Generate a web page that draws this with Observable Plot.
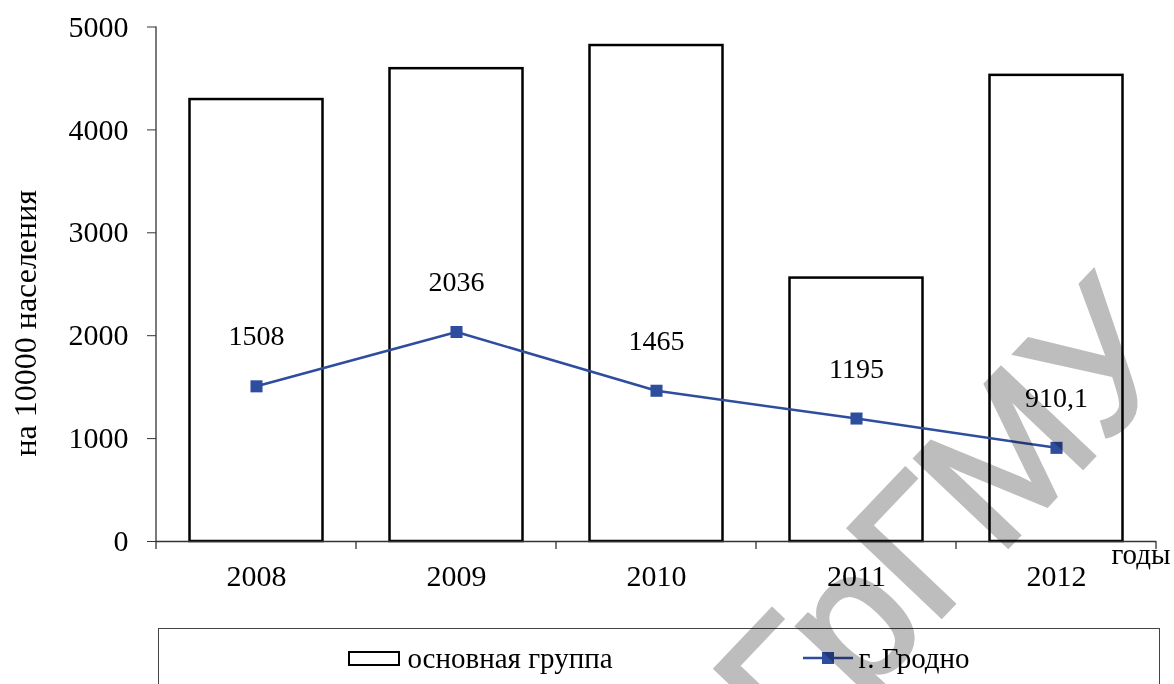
<!DOCTYPE html>
<html>
<head>
<meta charset="utf-8">
<script src="https://cdn.jsdelivr.net/npm/d3@7"></script>
<script src="https://cdn.jsdelivr.net/npm/@observablehq/plot@0.6"></script>
<style>
  html, body { margin: 0; padding: 0; background: #fff; }
  #page { position: relative; width: 1174px; height: 684px; overflow: hidden;
          font-family: "Liberation Serif", "Times New Roman", serif; color: #000; }
  #chart { position: absolute; left: 0; top: 0; }
  #legend { position: absolute; left: 158px; top: 628px; width: 1002px; height: 90px;
            box-sizing: border-box; border: 1.5px solid #444;
            display: flex; justify-content: center; align-items: flex-start;
            gap: 190px; padding-left: 0; padding-top: 13px; }
  .item { display: flex; align-items: center; font-size: 29px; line-height: 32px; }
  .swatch-box { width: 48px; height: 11px; border: 2px solid #000; margin-right: 7px; }
  .swatch-line { margin-right: 6px; }
  #stamp { position: absolute; left: 0; top: 0; pointer-events: none; mix-blend-mode: multiply; }
</style>
</head>
<body>
<div id="page">
  <div id="chart"></div>
  <div id="legend"></div>
  <svg id="stamp" width="1174" height="684"></svg>
</div>
<script>
// Years on the category axis
const years = ["2008", "2009", "2010", "2011", "2012"];
// Bars: main group, per 10 000 population
const mainGroup = [4295, 4595, 4820, 2560, 4530];
// Line: city of Grodno, per 10 000 population
const grodno = [1508, 2036, 1465, 1195, 910.1];
// Value axis ticks
const yTicks = [0, 1000, 2000, 3000, 4000, 5000];
// Series names and axis captions
const seriesNames = ["основная группа", "г. Гродно"];
const yLabel = "на 10000 населения";
const xLabel = "годы";
const stampText = "ГрГМУ";

const blue = "#2f4d9e";
const fmt = d3.formatLocale({decimal: ",", thousands: "\u00a0", grouping: [3], currency: ["", ""]}).format("");

const data = years.map((year, i) => ({year, main: mainGroup[i], city: grodno[i]}));

// Left axis line and the category-boundary ticks under the x axis
function axisFrame(index, scales, values, dims) {
  const g = d3.create("svg:g").attr("stroke", "#333").attr("stroke-width", 1.3);
  const left = dims.marginLeft;
  const bottom = dims.height - dims.marginBottom;
  const starts = years.map(y => scales.x(y));
  const step = starts[1] - starts[0];
  const edges = [...starts, starts[starts.length - 1] + step];
  g.append("line").attr("x1", left).attr("x2", left).attr("y1", dims.marginTop).attr("y2", bottom);
  for (const e of edges) {
    g.append("line").attr("x1", e).attr("x2", e).attr("y1", bottom).attr("y2", bottom + 8);
  }
  return g.node();
}

const chart = Plot.plot({
  width: 1174,
  height: 600,
  marginLeft: 156,
  marginRight: 18,
  marginTop: 26.5,
  marginBottom: 59,
  style: {fontFamily: "'Liberation Serif', 'Times New Roman', serif", fontSize: "30px", color: "#000", background: "transparent"},
  x: {domain: years, padding: 0, label: null},
  y: {domain: [0, 5000], label: null},
  marks: [
    Plot.barY(data, {x: "year", y: "main", fill: "white", stroke: "#000", strokeWidth: 2.5, insetLeft: 33.5, insetRight: 33.5}),
    Plot.ruleY([0], {stroke: "#333", strokeWidth: 1.3}),
    axisFrame,
    Plot.axisY({ticks: yTicks, tickSize: 9, tickPadding: 19, tickFormat: d => String(d), fontSize: 30, stroke: "#333", label: null}),
    Plot.axisX({tickSize: 0, tickPadding: 23, fontSize: 30, label: null}),
    Plot.text([xLabel], {frameAnchor: "bottom-right", dx: 14, dy: 22, textAnchor: "end", fontSize: 29}),
    Plot.text([yLabel], {frameAnchor: "left", rotate: -90, dx: -131, dy: 39, textAnchor: "middle", fontSize: 32}),
    Plot.line(data, {x: "year", y: "city", stroke: blue, strokeWidth: 2.5}),
    Plot.dot(data, {x: "year", y: "city", symbol: "square", r: 6.8, fill: blue}),
    Plot.text(data, {x: "year", y: "city", text: d => fmt(d.city), dy: -50, fontSize: 28})
  ]
});
document.getElementById("chart").appendChild(chart);

// Legend
const legend = d3.select("#legend");
const it1 = legend.append("div").attr("class", "item");
it1.append("div").attr("class", "swatch-box");
it1.append("span").text(seriesNames[0]);
const it2 = legend.append("div").attr("class", "item");
const sw = it2.append("svg").attr("class", "swatch-line").attr("width", 50).attr("height", 16);
sw.append("line").attr("x1", 0).attr("x2", 50).attr("y1", 8).attr("y2", 8).attr("stroke", blue).attr("stroke-width", 2.5);
sw.append("rect").attr("x", 19).attr("y", 2).attr("width", 12).attr("height", 12).attr("fill", blue);
it2.append("span").text(seriesNames[1]);

// Diagonal stamp across the lower right
d3.select("#stamp").append("text")
  .attr("transform", "translate(798,768) rotate(-46.5)")
  .attr("font-family", "'Liberation Sans', Arial, sans-serif")
  .attr("font-size", 186)
  .attr("fill", "#bdbdbd")
  .attr("stroke", "#bdbdbd")
  .attr("stroke-width", 4)
  .attr("stroke-linejoin", "miter")
  .text(stampText);
</script>
</body>
</html>
